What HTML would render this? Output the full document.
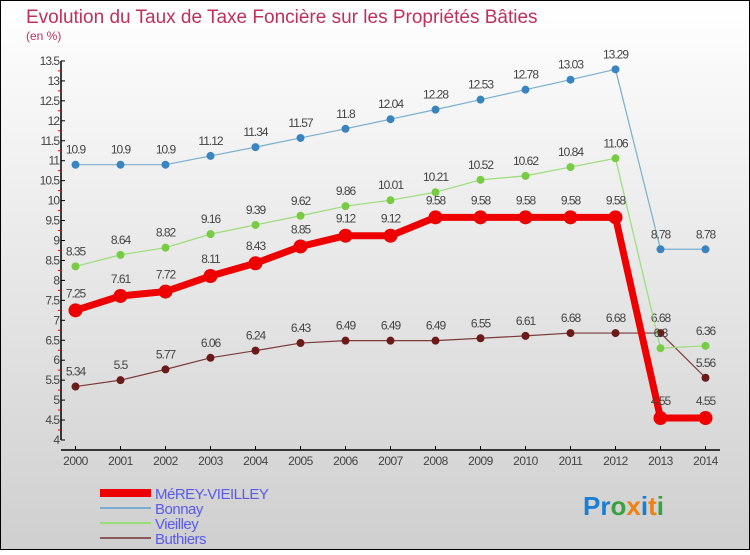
<!DOCTYPE html>
<html><head><meta charset="utf-8"><style>
html,body{margin:0;padding:0}
body{width:750px;height:550px;overflow:hidden;font-family:"Liberation Sans",sans-serif}
</style></head><body>
<svg id="chart" width="750" height="550" xmlns="http://www.w3.org/2000/svg">
<defs>
<linearGradient id="bg" x1="0" y1="0" x2="0" y2="1"><stop offset="0" stop-color="#ffffff"/><stop offset="1" stop-color="#cfcfcf"/></linearGradient>
</defs>
<rect x="0.5" y="0.5" width="749" height="549" fill="url(#bg)" stroke="#000"/>
<text x="26" y="23" font-size="19" fill="#c0305a">Evolution du Taux de Taxe Foncière sur les Propriétés Bâties</text>
<text x="26" y="40" font-size="12" fill="#c0305a">(en %)</text>
<g id="axes"></g>
<g id="series"></g>
<g id="legend"></g>
<text x="583" y="515" font-size="26" font-weight="bold"><tspan fill="#1a7fd0">Pr</tspan><tspan fill="#3aa040">o</tspan><tspan fill="#f08010">x</tspan><tspan fill="#1a7fd0">i</tspan><tspan fill="#f08010">t</tspan><tspan fill="#3aa040">i</tspan></text>
</svg>
<script>
const years = [2000,2001,2002,2003,2004,2005,2006,2007,2008,2009,2010,2011,2012,2013,2014];
const yTicks = [4,4.5,5,5.5,6,6.5,7,7.5,8,8.5,9,9.5,10,10.5,11,11.5,12,12.5,13,13.5];
const mereyValues = [7.25,7.61,7.72,8.11,8.43,8.85,9.12,9.12,9.58,9.58,9.58,9.58,9.58,4.55,4.55];
const bonnayValues = [10.9,10.9,10.9,11.12,11.34,11.57,11.8,12.04,12.28,12.53,12.78,13.03,13.29,8.78,8.78];
const vieilleyValues = [8.35,8.64,8.82,9.16,9.39,9.62,9.86,10.01,10.21,10.52,10.62,10.84,11.06,6.3,6.36];
const buthiersValues = [5.34,5.5,5.77,6.06,6.24,6.43,6.49,6.49,6.49,6.55,6.61,6.68,6.68,6.68,5.56];
const seriesNames = ["MéREY-VIEILLEY","Bonnay","Vieilley","Buthiers"];

const NS="http://www.w3.org/2000/svg";
function xs(i){return 75.5+i*45;}
function ys(v){return 440-(v-4)*39.9;}
function mk(tag,attrs,parent){const e=document.createElementNS(NS,tag);for(const k in attrs)e.setAttribute(k,attrs[k]);parent.appendChild(e);return e;}
const axes=document.getElementById('axes');
let yl=mk('line',{x1:61,y1:ys(13.5),x2:61,y2:440,stroke:'#000','stroke-width':1.5},axes);


yTicks.forEach(v=>{
  const y=ys(v);
  const t=mk('line',{x1:61,y1:y,x2:65,y2:y,stroke:'#000'},axes);
  
  
  if(v<13.5){const m=mk('line',{x1:58,y1:y-10,x2:61,y2:y-10,stroke:'#e00'},axes);
  
  }
  const l=mk('text',{x:59,y:y+4,'text-anchor':'end','font-size':12,fill:'#444','letter-spacing':'-1'},axes);
  l.textContent=String(v);
  
  
});
let xl=mk('line',{x1:61,y1:450,x2:720,y2:450,stroke:'#000','stroke-width':1.5},axes);


years.forEach((yr,i)=>{
  const x=xs(i);
  const t=mk('line',{x1:x,y1:446,x2:x,y2:450,stroke:'#000'},axes);
  
  
  const l=mk('text',{x:x,y:465,'text-anchor':'middle','font-size':12,fill:'#444','letter-spacing':'-0.5'},axes);
  l.textContent=String(yr);
  
  
});
const sg=document.getElementById('series');
function drawSeries(vals,color,lineColor,w,r,name){
  const g=mk('g',{},sg);
  
  
  const p=mk('polyline',{points:vals.map((v,i)=>xs(i)+','+ys(v)).join(' '),fill:'none',stroke:lineColor,'stroke-width':w,'stroke-linejoin':'round'},g);
  
  
  vals.forEach((v,i)=>{
    const c=mk('circle',{cx:xs(i),cy:ys(v),r:r,fill:color},g);
    
    
    const l=mk('text',{x:xs(i),y:ys(v)-11-(r>5?2:0),'text-anchor':'middle','font-size':12,fill:'#444','letter-spacing':'-1'},g);
    l.textContent=String(v);
    
    
  });
}
drawSeries(buthiersValues,'#6b1a1a','#7a3a3a',1.2,4,'buthiers');
drawSeries(vieilleyValues,'#77cc44','#99dd77',1.2,4,'vieilley');
drawSeries(bonnayValues,'#3a85c0','#7aaed0',1.2,4,'bonnay');
drawSeries(mereyValues,'#ee0000','#ee0000',7,7,'merey-vieilley');
const lg=document.getElementById('legend');
const lcol=['#ee0000','#7aaed0','#99dd77','#8a5a5a'];
const lw=[8,2,2,2];
seriesNames.forEach((n,i)=>{
  const y=493+i*15;
  const g=mk('g',{},lg);
  
  
  const ln=mk('line',{x1:100,y1:y,x2:151,y2:y,stroke:lcol[i],'stroke-width':lw[i]},g);
  
  
  const t=mk('text',{x:155,y:y+6,'font-size':15,fill:'#5a5aee','letter-spacing':'-0.5'},g);
  t.textContent=n;
  
  
});
</script>
</body></html>
